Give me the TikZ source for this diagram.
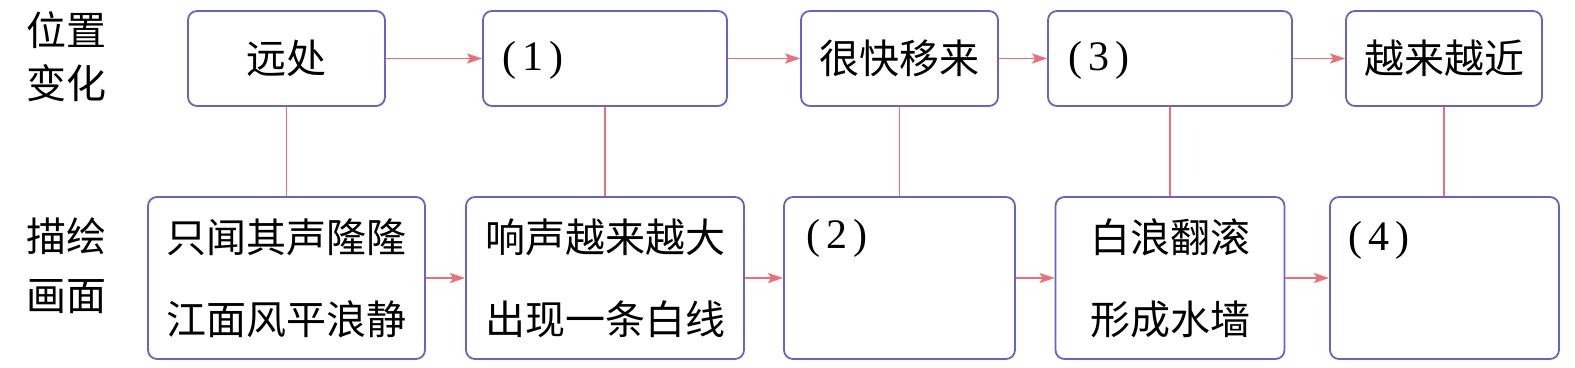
\documentclass[tikz,border=0pt]{standalone}
\usepackage{fontspec}
\newfontfamily\cjk{Noto Sans CJK SC}
\newfontfamily\numf{Liberation Serif}
\usetikzlibrary{arrows.meta}
\definecolor{boxc}{RGB}{105,100,195}
\definecolor{linec}{RGB}{238,110,120}
\begin{document}
\begin{tikzpicture}[x=1pt,y=-1pt,
  box/.style={draw=boxc,line width=1.8pt,rounded corners=9pt,inner sep=0pt},
  topbox/.style={box,minimum height=95pt},
  botbox/.style={box,minimum height=162pt},
  txt/.style={font=\cjk\fontsize{40}{82}\selectfont,align=center,inner sep=0pt},
  num/.style={font=\numf\fontsize{42}{42}\selectfont,inner sep=0pt,anchor=west},
  lbl/.style={font=\cjk\fontsize{40}{53}\selectfont,align=center,inner sep=0pt},
  flow/.style={draw=linec,line width=1.5pt,-{Stealth[length=15pt,width=10pt,inset=3pt]}},
  link/.style={draw=linec,line width=1.5pt}]
\useasboundingbox[fill=white] (0,0) rectangle (1575,367);

% left labels
\node[lbl] (l1) at (67,57) {位置\\变化};
\node[lbl,font=\cjk\fontsize{40}{59}\selectfont] (l2) at (67,266) {描绘\\画面};

% top row
\node[topbox,txt,minimum width=197pt] (t1) at (286.5,58.5) {远处};
\node[topbox,minimum width=244pt] (t2) at (605,58.5) {};
\node[num] (t2x) at (502,60) {(\kern6pt1\kern6pt)};
\node[topbox,txt,minimum width=197pt] (t3) at (899.5,58.5) {很快移来};
\node[topbox,minimum width=244pt] (t4) at (1170,58.5) {};
\node[num] (t4x) at (1068,60) {(\kern6pt3\kern6pt)};
\node[topbox,txt,minimum width=196pt] (t5) at (1444,58.5) {越来越近};

% bottom row
\node[botbox,txt,minimum width=277pt] (b1) at (286.5,278) {只闻其声隆隆\\江面风平浪静};
\node[botbox,txt,minimum width=278pt] (b2) at (605,278) {响声越来越大\\出现一条白线};
\node[botbox,minimum width=231pt] (b3) at (899.5,278) {};
\node[num] (b3x) at (806,238) {(\kern6pt2\kern6pt)};
\node[botbox,txt,minimum width=229pt] (b4) at (1170,278) {白浪翻滚\\形成水墙};
\node[botbox,minimum width=229pt] (b5) at (1444.5,278) {};
\node[num] (b5x) at (1348,240) {(\kern6pt4\kern6pt)};

% arrows
\draw[flow] (t1) -- (t2);
\draw[flow] (t2) -- (t3);
\draw[flow] (t3) -- (t4);
\draw[flow] (t4) -- (t5);
\draw[flow] (b1) -- (b2);
\draw[flow] (b2) -- (b3);
\draw[flow] (b3) -- (b4);
\draw[flow] (b4) -- (b5);

% vertical links
\draw[link] (t1.south) -- (b1.north);
\draw[link] (t2.south) -- (b2.north);
\draw[link] (t3.south) -- (b3.north);
\draw[link] (t4.south) -- (b4.north);
\draw[link] (t5.south) -- (t5.south |- b5.north);
\end{tikzpicture}
\end{document}
